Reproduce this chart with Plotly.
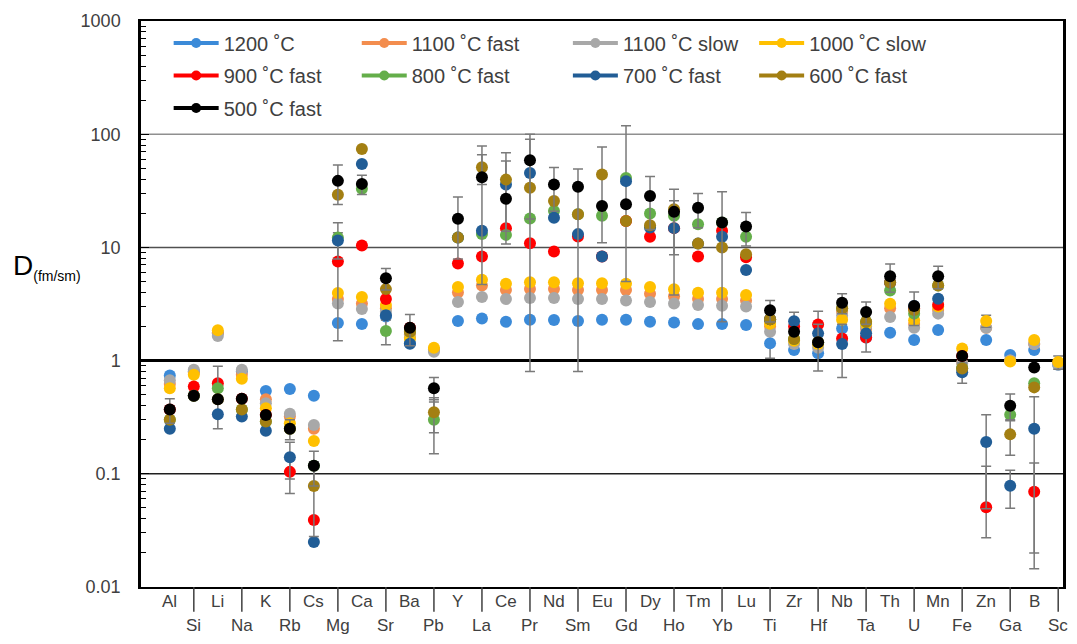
import plotly.graph_objects as go

elements = ["Al", "Si", "Li", "Na", "K", "Rb", "Cs", "Mg", "Ca", "Sr", "Ba", "Pb", "Y", "La",
            "Ce", "Pr", "Nd", "Sm", "Eu", "Gd", "Dy", "Ho", "Tm", "Yb", "Lu", "Ti", "Zr", "Hf",
            "Nb", "Ta", "Th", "U", "Mn", "Fe", "Zn", "Ga", "B", "Sc"]

y_ticks = [0.01, 0.1, 1, 10, 100, 1000]
y_ticktext = ["0.01", "0.1", "1", "10", "100", "1000"]

series_names = ["1200 ˚C", "1100 ˚C fast", "1100 ˚C slow", "1000 ˚C slow", "900 ˚C fast",
                "800 ˚C fast", "700 ˚C fast", "600 ˚C fast", "500 ˚C fast"]

d_1200 = [0.74, 0.80, 1.75, 0.80, 0.54, 0.56, 0.49, 2.15, 2.11, 2.45, 1.42, 1.25, 2.24, 2.35,
          2.2, 2.3, 2.28, 2.24, 2.3, 2.3, 2.2, 2.17, 2.1, 2.1, 2.06, 1.42, 1.24, 1.16,
          1.92, 1.6, 1.76, 1.52, 1.86, 0.85, 1.52, 1.12, 1.24, 0.92]
d_1100f = [0.62, 0.78, 1.75, 0.75, 0.455, 0.32, 0.25, 3.5, 3.2, 2.9, 1.7, 1.25, 4.0, 4.6,
           4.2, 4.3, 4.3, 4.2, 4.2, 4.2, 3.9, 3.7, 3.5, 3.5, 3.4, 2.0, 1.5, 1.4,
           2.7, 1.9, 2.9, 2.1, 2.8, 0.95, 1.95, 1.0, 1.4, 0.95]
d_1100s = [0.67, 0.83, 1.65, 0.83, 0.42, 0.34, 0.27, 3.2, 2.86, 2.7, 1.6, 1.2, 3.3, 3.64,
           3.5, 3.57, 3.57, 3.5, 3.5, 3.4, 3.3, 3.2, 3.1, 3.05, 3.0, 1.8, 1.4, 1.3,
           2.5, 2.0, 2.43, 1.95, 2.6, 0.95, 1.95, 1.0, 1.4, 0.92]
d_1000s = [0.57, 0.75, 1.85, 0.69, 0.38, 0.28, 0.195, 3.95, 3.64, 3.1, 1.56, 1.3, 4.46, 5.17,
           4.77, 4.93, 4.93, 4.83, 4.83, 4.77, 4.46, 4.26, 3.97, 3.97, 3.8, 2.12, 1.5, 1.4,
           2.3, 2.1, 3.18, 2.27, 3.0, 1.28, 2.24, 0.98, 1.52, 0.97]
d_900f = [0.37, 0.59, 0.63, 0.46, 0.33, 0.104, 0.039, 7.5, 10.4, 3.5, 1.95, None, 7.2, 8.3,
          14.8, 10.9, 9.2, 12.5, 8.3, 17.1, 12.4, 14.8, 8.3, 14.0, 8.2, 2.32, 2.0, 2.08,
          1.57, 1.6, 4.9, 2.9, 3.12, 1.1, 0.0507, None, 0.0695, None]
d_800f = [0.30, 0.49, 0.57, 0.37, 0.29, 0.25, 0.118, 12.2, 33.0, 1.83, 1.8, 0.30, 12.2, 13.1,
          12.9, 18.0, 21.0, 19.6, 19.0, 41.0, 19.9, 19.0, 16.0, 16.6, 12.4, 2.32, 1.55, 1.45,
          2.9, 2.2, 4.17, 2.6, 4.61, 0.86, None, 0.333, 0.63, None]
d_700f = [0.25, 0.49, 0.336, 0.32, 0.24, 0.14, 0.025, 11.5, 54.6, 2.52, 1.41, None, 12.2, 14.0,
          35.9, 45.5, 18.3, 13.1, 8.3, 38.5, 15.0, 14.8, 10.8, 12.4, 6.3, 2.32, 2.23, 1.74,
          1.4, 1.74, 4.9, 3.04, 3.52, 0.79, 0.191, 0.0785, 0.25, None]
d_600f = [0.30, 0.49, 0.455, 0.37, 0.29, 0.25, 0.078, 29.2, 73.9, 4.28, 1.8, 0.35, 12.2, 51.0,
          39.7, 33.6, 25.7, 19.6, 44.0, 17.1, 15.7, 21.7, 10.8, 10.0, 8.7, 2.32, 1.55, 1.45,
          2.9, 2.2, 4.9, 2.8, 4.61, 0.85, None, 0.223, 0.58, None]
d_500f = [0.37, 0.49, 0.455, 0.46, 0.33, 0.25, 0.118, 38.7, 36.4, 5.35, 1.95, 0.57, 17.9, 41.7,
          26.9, 58.8, 35.9, 34.3, 23.2, 24.0, 28.4, 20.6, 22.4, 16.6, 15.3, 2.79, 1.8, 1.45,
          3.25, 2.69, 5.57, 3.04, 5.57, 1.1, None, 0.4, 0.87, None]

# error bars: element -> (plus, minus)
e_1200 = {"Ti": (0.37, 0.37)}
e_1000s = {"Zn": (0.27, 0.27), "Sc": (0.13, 0.13)}
e_900f = {"Rb": (0.037, 0.037), "Mg": (6, 6), "Hf": (0.65, 0.65), "Zn": (0.066, 0.0234),
          "B": (0.055, 0.055)}
e_800f = {"Li": (0.32, 0.32), "Mg": (4.3, 4.3), "Sr": (0.45, 0.45), "Pb": (0.15, 0.15),
          "Gd": (78, 36)}
e_700f = {"Rb": (0.05, 0.05), "Ce": (22, 22), "Pr": (44.7, 44.7), "Ho": (11, 11),
          "Zr": (0.45, 0.45), "Nb": (0.69, 0.69), "Ta": (0.55, 0.55), "Fe": (0.16, 0.16),
          "Zn": (0.142, 0.142), "Ga": (0.029, 0.029), "B": (0.23, 0.23)}
e_600f = {"Cs": (0.05, 0.05), "Pb": (0.12, 0.12), "La": (15, 15), "Ce": (29, 29),
          "Eu": (33, 33), "Ga": (0.077, 0.077)}
e_500f = {"Al": (0.09, 0.09), "Rb": (0.05, 0.05), "Cs": (0.04, 0.04), "Mg": (14.8, 14.8),
          "Ca": (7, 7), "Sr": (1.15, 1.15), "Ba": (0.6, 0.6), "Pb": (0.14, 0.14), "Y": (10, 10),
          "La": (37, 37), "Pr": (41, 41), "Nd": (15, 15), "Sm": (15, 33.5), "Dy": (14, 14),
          "Ho": (12, 12), "Tm": (7.5, 7.5), "Yb": (14.4, 14.4), "Lu": (5, 5), "Ti": (0.6, 0.6),
          "Hf": (0.64, 0.64), "Nb": (0.65, 0.65), "Ta": (0.6, 0.6), "Th": (1.55, 1.55),
          "U": (1.0, 1.0), "Mn": (1.25, 1.25), "Ga": (0.106, 0.106)}

series_data = [d_1200, d_1100f, d_1100s, d_1000s, d_900f, d_800f, d_700f, d_600f, d_500f]
series_err = [e_1200, {}, {}, e_1000s, e_900f, e_800f, e_700f, e_600f, e_500f]
colors = ["#3b8ad8", "#f38d4e", "#a8a8a8", "#ffc000", "#ff0000", "#64ae4a", "#215d96",
          "#a37f12", "#000000"]
legend_ids = ["legend", "legend2", "legend3", "legend4", "legend", "legend2", "legend3",
              "legend4", "legend"]

FONT = "Liberation Sans, Arial, sans-serif"
TXT = "#404040"

x_idx = list(range(len(elements)))

fig = go.Figure()
for name, vals, errs, col, lg in zip(series_names, series_data, series_err, colors, legend_ids):
    plus = [errs.get(el, (0, 0))[0] for el in elements]
    minus = [errs.get(el, (0, 0))[1] for el in elements]
    fig.add_trace(go.Scatter(
        x=x_idx, y=vals, mode="markers", name=name, showlegend=False,
        marker=dict(size=12, color=col),
        error_y=dict(type="data", array=plus, arrayminus=minus, symmetric=False,
                     color="#7a7a7a", thickness=1.5, width=5, visible=True),
    ))
    fig.add_trace(go.Scatter(
        x=[None], y=[None], mode="lines+markers", name=name, legend=lg, legendgroup=name,
        line=dict(color=col, width=4), marker=dict(size=10, color=col), showlegend=True,
    ))

plot_h = 570.0
shapes = []
# horizontal reference lines
for val, colr, w in [(100, "#8f8f8f", 1.5), (10, "#505050", 1.5), (1, "#000000", 3), (0.1, "#202020", 1.5)]:
    shapes.append(dict(type="line", xref="paper", x0=0, x1=1, yref="y", y0=val, y1=val,
                       line=dict(color=colr, width=w), layer="below"))
# category separator ticks
for i in range(1, len(elements), 2):
    shapes.append(dict(type="line", xref="x", x0=i, x1=i, yref="paper", y0=0, y1=-25 / plot_h,
                       line=dict(color="#404040", width=1.5)))

annotations = []
for i, el in enumerate(elements):
    yy = -15 / plot_h if i % 2 == 0 else -39 / plot_h
    annotations.append(dict(x=i, xref="x", y=yy, yref="paper", text=el, showarrow=False,
                            xanchor="center", yanchor="middle",
                            font=dict(family=FONT, size=17, color=TXT)))
annotations.append(dict(
    x=-0.141, xref="paper", y=0.565, yref="paper", xanchor="left", yanchor="middle",
    text="D<sub><span style='font-size:14px'>(fm/sm)</span></sub>", showarrow=False,
    font=dict(family=FONT, size=28, color="#000000")))

leg_common = dict(font=dict(family=FONT, size=20, color=TXT), bgcolor="rgba(0,0,0,0)",
                  orientation="v", tracegroupgap=3.5, xanchor="left", yanchor="top",
                  itemwidth=45, borderwidth=0)

fig.update_layout(
    width=1077, height=644,
    margin=dict(l=141, r=11, t=17, b=57),
    paper_bgcolor="white", plot_bgcolor="white",
    font=dict(family=FONT, color=TXT),
    xaxis=dict(range=[-1.2, 37.2], showticklabels=False, ticks="", showgrid=False,
               zeroline=False, showline=True, linecolor="black", linewidth=2, mirror=True),
    yaxis=dict(type="log", range=[-2, 3], tickvals=y_ticks, ticktext=y_ticktext,
               ticks="inside", ticklen=8, tickcolor="black", showgrid=False, zeroline=False,
               showline=True, linecolor="black", linewidth=2.5, mirror=True,
               tickfont=dict(family=FONT, size=18, color=TXT), ticklabelstandoff=14,
               minor=dict(ticks="inside", ticklen=5, tickcolor="black", dtick="D1", showgrid=False)),
    legend=dict(x=0.03, y=0.9955, **leg_common),
    legend2=dict(x=0.234, y=0.9955, **leg_common),
    legend3=dict(x=0.463, y=0.9955, **leg_common),
    legend4=dict(x=0.665, y=0.9955, **leg_common),
    shapes=shapes,
    annotations=annotations,
)

fig.write_html("out.html")
